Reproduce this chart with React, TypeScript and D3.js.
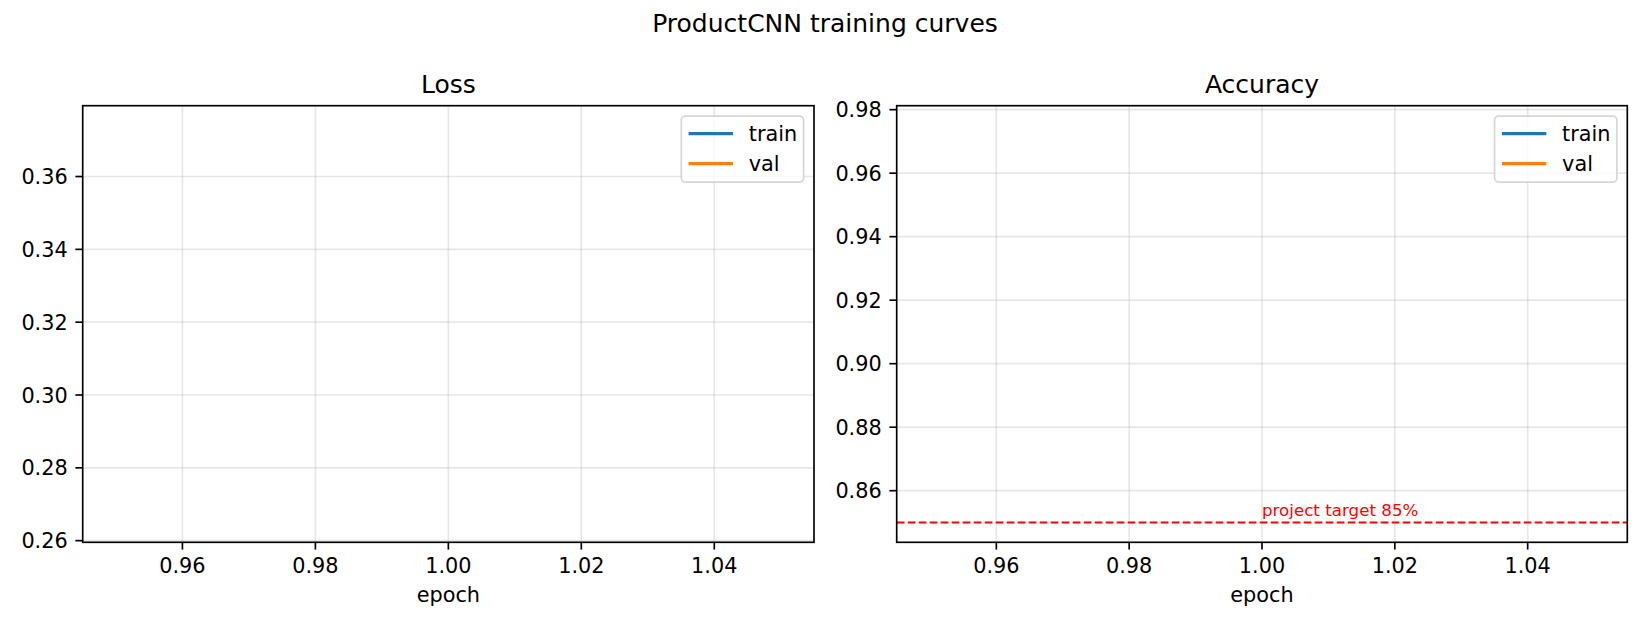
import * as d3 from "d3"

// one epoch logged so far
const epochs = [1]
const trainLoss = [0.374]
const valLoss = [0.265]
const trainAcc = [0.893]
const valAcc = [0.975]
const targetAcc = 0.85
const targetLabel = "project target 85%"

const xTicks = [0.96, 0.98, 1.0, 1.02, 1.04]
const lossTicks = [0.26, 0.28, 0.3, 0.32, 0.34, 0.36]
const accTicks = [0.86, 0.88, 0.9, 0.92, 0.94, 0.96, 0.98]

const W = 1650
const H = 630
const FONT = "DejaVu Sans, sans-serif"
const TRAIN = "#1f77b4"
const VAL = "#ff7f0e"
const LW = 1.67 // 0.8pt at 150 dpi

// matplotlib-like autoscale: 5% margin, singular ranges widened first
function autoDomain(vals: number[]): [number, number] {
  let [lo, hi] = d3.extent(vals) as [number, number]
  if (lo === hi) {
    const d = Math.abs(lo) * 0.05 || 0.05
    lo -= d
    hi += d
  }
  const pad = (hi - lo) * 0.05
  return [lo - pad, hi + pad]
}

interface PanelProps {
  left: number
  right: number
  title: string
  train: number[]
  val: number[]
  yTicks: number[]
  target?: number
}

function Panel({ left, right, title, train, val, yTicks, target }: PanelProps) {
  const top = 105.7
  const bottom = 542.3
  const x = d3.scaleLinear().domain(autoDomain(epochs)).range([left, right])
  const yVals = [...train, ...val, ...(target !== undefined ? [target] : [])]
  const y = d3.scaleLinear().domain(autoDomain(yVals)).range([bottom, top])

  const line = d3.line<number>()
    .x((_, i) => x(epochs[i]))
    .y(d => y(d))

  const legendW = 122.3
  const legendX = right - 10.4 - legendW
  const legendY = top + 10.4

  return (
    <g fontFamily={FONT}>
      {/* grid */}
      {xTicks.map(t => (
        <line key={"gx" + t} x1={x(t)} x2={x(t)} y1={top} y2={bottom}
          stroke="#b0b0b0" strokeOpacity={0.3} strokeWidth={LW} />
      ))}
      {yTicks.map(t => (
        <line key={"gy" + t} x1={left} x2={right} y1={y(t)} y2={y(t)}
          stroke="#b0b0b0" strokeOpacity={0.3} strokeWidth={LW} />
      ))}

      {/* series */}
      <path d={line(train) || ""} fill="none" stroke={TRAIN} strokeWidth={3.1} />
      <path d={line(val) || ""} fill="none" stroke={VAL} strokeWidth={3.1} />

      {target !== undefined && (
        <g>
          <line x1={left} x2={right} y1={y(target)} y2={y(target)}
            stroke="red" strokeWidth={2.08} strokeDasharray="7.7,3.3" />
          <text x={x(1)} y={y(target + 0.002)} fontSize={16.7} fill="red">{targetLabel}</text>
        </g>
      )}

      {/* spines */}
      <rect x={left} y={top} width={right - left} height={bottom - top}
        fill="none" stroke="#000" strokeWidth={LW} />

      {/* x ticks */}
      {xTicks.map(t => (
        <g key={"xt" + t}>
          <line x1={x(t)} x2={x(t)} y1={bottom} y2={bottom + 7.3} stroke="#000" strokeWidth={LW} />
          <text x={x(t)} y={573} textAnchor="middle" fontSize={20.8}>{t.toFixed(2)}</text>
        </g>
      ))}
      {/* y ticks */}
      {yTicks.map(t => (
        <g key={"yt" + t}>
          <line x1={left - 7.3} x2={left} y1={y(t)} y2={y(t)} stroke="#000" strokeWidth={LW} />
          <text x={left - 15} y={y(t) + 7.5} textAnchor="end" fontSize={20.8}>{t.toFixed(2)}</text>
        </g>
      ))}

      <text x={(left + right) / 2} y={602} textAnchor="middle" fontSize={20.8}>epoch</text>
      <text x={(left + right) / 2} y={93} textAnchor="middle" fontSize={25}>{title}</text>

      {/* legend */}
      <rect x={legendX} y={legendY} width={legendW} height={66} rx={4}
        fill="#fff" fillOpacity={0.8} stroke="#cccccc" strokeOpacity={0.8} strokeWidth={LW} />
      {[{ name: "train", c: TRAIN }, { name: "val", c: VAL }].map((s, i) => (
        <g key={s.name}>
          <line x1={legendX + 7.3} x2={legendX + 51.7} y1={legendY + 17.5 + i * 30}
            y2={legendY + 17.5 + i * 30} stroke={s.c} strokeWidth={3.1} />
          <text x={legendX + 67.5} y={legendY + 17.5 + i * 30 + 7.3} fontSize={20.8}>{s.name}</text>
        </g>
      ))}
    </g>
  )
}

export default function App() {
  return (
    <svg width={W} height={H} style={{ position: "absolute", left: 0, top: 0, background: "#fff" }}>
      <rect width={W} height={H} fill="#fff" />
      <text x={W / 2} y={32} textAnchor="middle" fontFamily={FONT} fontSize={25}>
        ProductCNN training curves
      </text>
      <Panel left={82.7} right={814} title="Loss" train={trainLoss} val={valLoss} yTicks={lossTicks} />
      <Panel left={896.7} right={1627.3} title="Accuracy" train={trainAcc} val={valAcc}
        yTicks={accTicks} target={targetAcc} />
    </svg>
  )
}
